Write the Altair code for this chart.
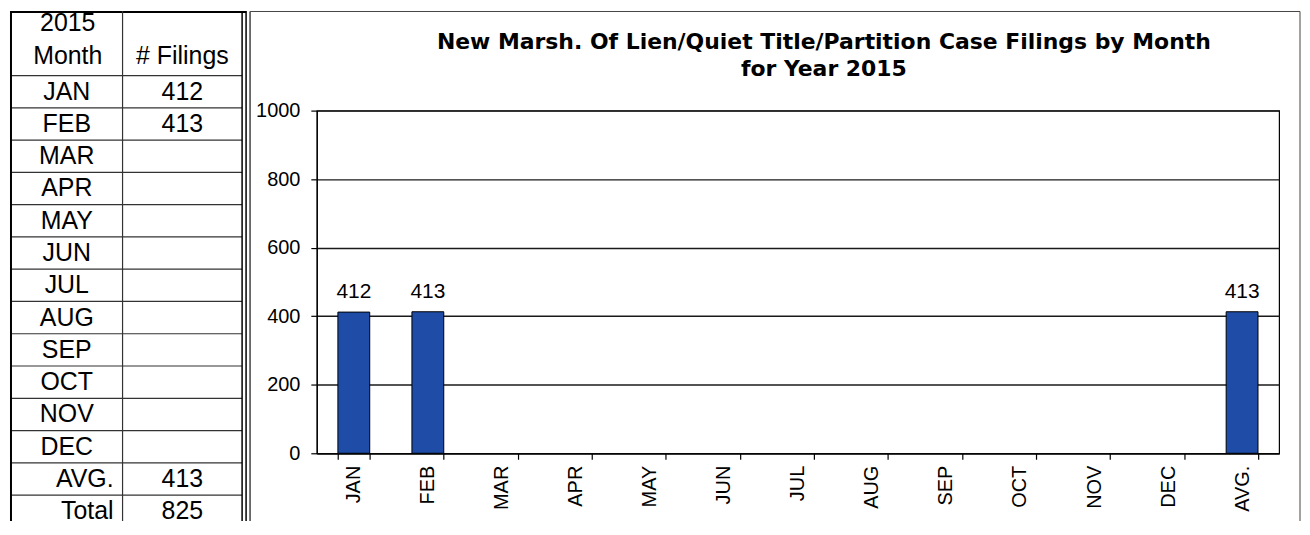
import altair as alt
import pandas as pd

# ---------------- data ----------------
months = ["JAN", "FEB", "MAR", "APR", "MAY", "JUN", "JUL", "AUG", "SEP", "OCT", "NOV", "DEC", "AVG."]
filings = [412, 413, None, None, None, None, None, None, None, None, None, None, 413]

table_months = ["JAN", "FEB", "MAR", "APR", "MAY", "JUN", "JUL", "AUG", "SEP", "OCT", "NOV", "DEC"]
table_month_values = ["412", "413", "", "", "", "", "", "", "", "", "", ""]
summary_labels = ["AVG.", "Total"]
summary_values = ["413", "825"]
header_year = "2015"
header_cols = ["Month", "# Filings"]
title_lines = ["New Marsh. Of Lien/Quiet Title/Partition Case Filings by Month", "for Year  2015"]
y_ticks = [0, 200, 400, 600, 800, 1000]

FONT = "Liberation Sans"
BLUE = "#1e4ca6"

# ---------------- table panel ----------------
# the table panel's view is aligned with the chart's plot area (top at plot top);
# everything above is drawn at negative offsets.
TW, TH = 238, 412
row_scale = alt.Scale(domain=[1.0864, 13.8025], reverse=True, nice=False, zero=False)


def ry(field):
    return alt.Y(field, type="quantitative", scale=row_scale, axis=None)


mdf = pd.DataFrame({"label": table_months, "value": table_month_values, "row": list(range(12))})
mdf["mid"] = mdf["row"] + 0.5
sdf = pd.DataFrame({"label": summary_labels, "value": summary_values, "row": [12, 13]})
sdf["mid"] = sdf["row"] + 0.5
lines_df = pd.DataFrame({"k": list(range(0, 14))})
one = pd.DataFrame({"a": [0]})

tstyle = dict(font=FONT, fontSize=25, color="black", baseline="middle")

month_text = alt.Chart(mdf).mark_text(align="center", **tstyle).encode(
    x=alt.value(57), y=ry("mid"), text="label:N")
month_vals = alt.Chart(mdf).mark_text(align="center", **tstyle).encode(
    x=alt.value(173), y=ry("mid"), text="value:N")
sum_text = alt.Chart(sdf).mark_text(align="right", **tstyle).encode(
    x=alt.value(104), y=ry("mid"), text="label:N")
sum_vals = alt.Chart(sdf).mark_text(align="center", **tstyle).encode(
    x=alt.value(173), y=ry("mid"), text="value:N")

hdr_year = alt.Chart(pd.DataFrame({"t": [header_year]})).mark_text(align="center", **tstyle).encode(
    x=alt.value(58), y=alt.value(-88), text="t:N")
hdr_month = alt.Chart(pd.DataFrame({"t": [header_cols[0]]})).mark_text(align="center", **tstyle).encode(
    x=alt.value(58), y=alt.value(-55), text="t:N")
hdr_fil = alt.Chart(pd.DataFrame({"t": [header_cols[1]]})).mark_text(align="center", **tstyle).encode(
    x=alt.value(173), y=alt.value(-55), text="t:N")

hlines = alt.Chart(lines_df).mark_rule(color="#333333", strokeWidth=1.2).encode(
    y=ry("k"), x=alt.value(1), x2=alt.value(233))
top_border = alt.Chart(one).mark_rule(color="black", strokeWidth=2).encode(
    y=alt.value(-99), x=alt.value(0), x2=alt.value(237))


def vrule(xpos, width, color):
    return alt.Chart(one).mark_rule(color=color, strokeWidth=width).encode(
        x=alt.value(xpos), y=alt.value(-100), y2=alt.value(TH))


table = alt.layer(
    hlines, top_border,
    vrule(1, 2, "black"), vrule(113, 1.2, "#333333"), vrule(233, 1.5, "black"), vrule(237, 1.5, "black"),
    hdr_year, hdr_month, hdr_fil, month_text, month_vals, sum_text, sum_vals,
).properties(width=TW, height=TH)

# ---------------- chart panel ----------------
bdf = pd.DataFrame({"month": months, "filings": filings})

xenc = alt.X(
    "month:N", sort=months,
    scale=alt.Scale(domain=months, paddingInner=0.57, paddingOuter=0.285),
    axis=alt.Axis(title=None, labelAngle=270, tickBand="extent", tickSize=6, tickColor="black",
                  tickWidth=1.2, domainColor="black", domainWidth=1.2, labelPadding=6,
                  labelFont=FONT, labelFontSize=20, labelColor="black", grid=False),
)
yenc = alt.Y(
    "filings:Q",
    scale=alt.Scale(domain=[0, 1000], nice=False),
    axis=alt.Axis(title=None, values=y_ticks, format="d", grid=True, gridColor="#1a1a1a", gridWidth=1.4,
                  tickSize=6, tickColor="black", tickWidth=1.2, domainColor="black", domainWidth=1.2,
                  labelPadding=11, labelFont=FONT, labelFontSize=20, labelColor="black"),
)

bars = alt.Chart(bdf).transform_filter("isValid(datum.filings)").mark_bar(
    color=BLUE, stroke="black", strokeWidth=1).encode(x=xenc, y=yenc)
bar_labels = alt.Chart(bdf).transform_filter("isValid(datum.filings)").mark_text(
    font=FONT, fontSize=21, color="black", baseline="alphabetic", dy=-14).encode(
    x=alt.X("month:N", sort=months), y="filings:Q", text="filings:Q")

tfont = dict(font="DejaVu Sans", fontWeight="bold", fontSize=22, color="black",
             align="center", baseline="alphabetic")
title1 = alt.Chart(pd.DataFrame({"t": [title_lines[0]]})).mark_text(**tfont).encode(
    x=alt.value(509), y=alt.value(-62), text="t:N")
title2 = alt.Chart(pd.DataFrame({"t": [title_lines[1]]})).mark_text(**tfont).encode(
    x=alt.value(509), y=alt.value(-35), text="t:N")

box_color = "#444444"
box_left = alt.Chart(one).mark_rule(color=box_color, strokeWidth=1.5).encode(
    x=alt.value(-67), y=alt.value(-99.5), y2=alt.value(412))
box_top = alt.Chart(one).mark_rule(color=box_color, strokeWidth=1).encode(
    x=alt.value(-67), x2=alt.value(987), y=alt.value(-99.5))
box_right = alt.Chart(one).mark_rule(color=box_color, strokeWidth=1).encode(
    x=alt.value(987), y=alt.value(-99.5), y2=alt.value(412))

chart = alt.layer(
    bars, bar_labels, title1, title2, box_left, box_top, box_right
).properties(width=966, height=344, view=alt.ViewBackground(stroke="black", strokeWidth=1.2))

final = alt.hconcat(table, chart, spacing=0).properties(
    padding=0, background="white"
).configure_view(stroke="transparent")

final.save("out.html", embed_options={"renderer": "svg", "actions": False})
